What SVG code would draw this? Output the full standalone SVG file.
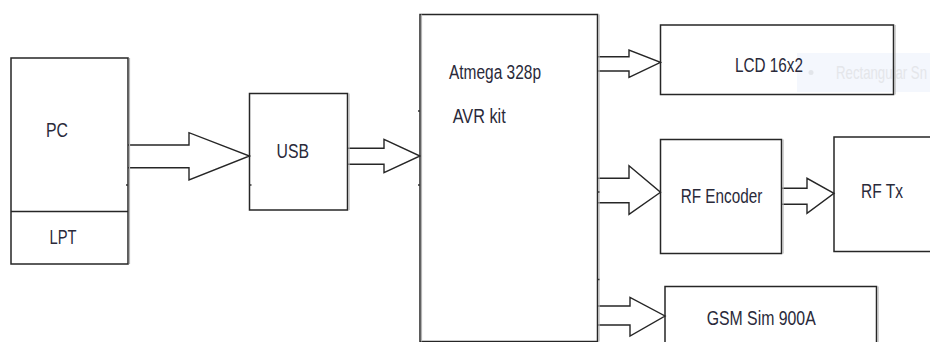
<svg xmlns="http://www.w3.org/2000/svg" width="930" height="342" viewBox="0 0 930 342">
<style>
.box{fill:none;stroke:#262626;stroke-width:1.5}
.shade{stroke:#b4b4b4;stroke-width:1.2}
.arr{fill:#fff;stroke:#262626;stroke-width:1.4;stroke-linejoin:miter}
.lbl{font-family:"Liberation Sans",Arial,sans-serif;font-size:20px;fill:#2a2a3a}
.tick{stroke:#333;stroke-width:1.5}
.wm{font-family:"Liberation Sans",Arial,sans-serif;font-size:19px;fill:#e4e6ea}
</style>
<rect width="930" height="342" fill="#fff"/>
<g id="tooltip">
<rect x="797" y="53" width="133" height="39" fill="#f4f7fd"/>
<circle cx="811" cy="72.5" r="2.5" fill="#e2e5ea"/>
<text class="wm" x="836" y="79" textLength="91" lengthAdjust="spacingAndGlyphs">Rectangular Sn</text>
</g>
<g id="connectors">
<polyline class="arr" points="128,145 189,145 189,132.7 249.5,156 189,180 189,167.7 128,167.7"/>
<polyline class="arr" points="348,148.3 384,148.3 384,139.3 420,156 384,172.7 384,164.3 348,164.3"/>
<polyline class="arr" points="598,56.7 629,56.7 629,50 660.5,62.3 629,77.3 629,71 598,71"/>
<polyline class="arr" points="598,178.3 629,178.3 629,165.7 660.5,192.3 629,214.3 629,202.7 598,202.7"/>
<polyline class="arr" points="782,188.3 807,188.3 807,178.3 834,193.3 807,213.3 807,204.3 782,204.3"/>
<polyline class="arr" points="598,306 630,306 630,297.3 665,316 630,336 630,325 598,325"/>
</g>
<g id="pc">
<rect class="box" x="11" y="58" width="117" height="206"/>
<line class="shade" x1="129.5" y1="58" x2="129.5" y2="264"/>
<line class="box" x1="11" y1="211.5" x2="128" y2="211.5"/>
<line class="tick" x1="126" y1="185" x2="128" y2="185"/>
<text class="lbl" x="46" y="137" textLength="22" lengthAdjust="spacingAndGlyphs">PC</text>
<text class="lbl" x="49.5" y="244" textLength="27" lengthAdjust="spacingAndGlyphs">LPT</text>
</g>
<g id="usb">
<rect class="box" x="249.5" y="93.5" width="98" height="116.5"/>
<line class="shade" x1="349" y1="93.5" x2="349" y2="210"/>
<line class="tick" x1="249.5" y1="185" x2="251.5" y2="185"/>
<text class="lbl" x="276.5" y="158.3" textLength="32.5" lengthAdjust="spacingAndGlyphs">USB</text>
</g>
<g id="avr">
<rect class="box" x="420" y="14.5" width="177.5" height="327"/>
<line class="shade" x1="599" y1="14.5" x2="599" y2="341.5"/>
<line class="shade" x1="421.5" y1="14.5" x2="421.5" y2="341.5"/>
<line class="tick" x1="418" y1="111" x2="420" y2="111"/>
<line class="tick" x1="418" y1="185" x2="420" y2="185"/>
<line class="tick" x1="597.5" y1="192" x2="599.5" y2="192"/>
<line class="tick" x1="597.5" y1="279.5" x2="599.5" y2="279.5"/>
<text class="lbl" x="449" y="79.3" textLength="92" lengthAdjust="spacingAndGlyphs">Atmega 328p</text>
<text class="lbl" x="452.7" y="123.3" textLength="53" lengthAdjust="spacingAndGlyphs">AVR kit</text>
</g>
<g id="lcd">
<rect class="box" x="660.5" y="25" width="233" height="69.5"/>
<line class="shade" x1="895" y1="25" x2="895" y2="94.5"/>
<text class="lbl" x="735" y="71.5" textLength="68" lengthAdjust="spacingAndGlyphs">LCD 16x2</text>
</g>
<g id="rf-encoder">
<rect class="box" x="660.5" y="139.5" width="121" height="114"/>
<line class="shade" x1="783" y1="139.5" x2="783" y2="253.5"/>
<text class="lbl" x="680.7" y="203.3" textLength="81.6" lengthAdjust="spacingAndGlyphs">RF Encoder</text>
</g>
<g id="rf-tx">
<rect class="box" x="834" y="137" width="110" height="114.5"/>
<text class="lbl" x="861" y="198.3" textLength="42" lengthAdjust="spacingAndGlyphs">RF Tx</text>
</g>
<g id="gsm">
<rect class="box" x="665" y="286.5" width="211.5" height="70"/>
<line class="shade" x1="878" y1="286.5" x2="878" y2="342"/>
<text class="lbl" x="706.7" y="325" textLength="109" lengthAdjust="spacingAndGlyphs">GSM Sim 900A</text>
</g>
</svg>
